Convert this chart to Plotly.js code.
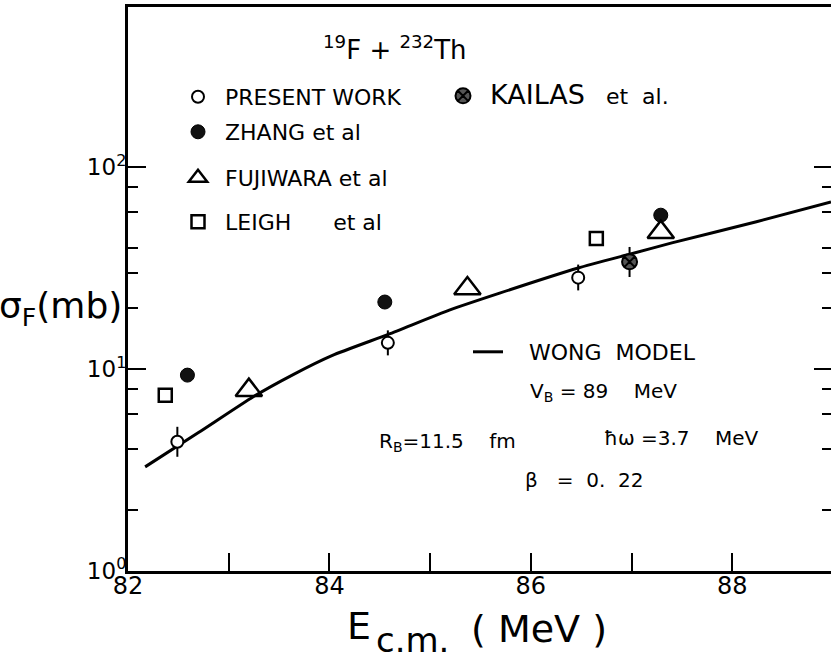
<!DOCTYPE html>
<html>
<head>
<meta charset="utf-8">
<script src="https://cdn.plot.ly/plotly-3.0.1.min.js"></script>
<style>
html,body{margin:0;padding:0;overflow:hidden;background:#fff;}
#chart{width:833px;height:659px;}
</style>
</head>
<body>
<div id="chart"></div>
<script>
// ---- data ----
const energyPresent = [82.49, 84.58, 86.47];
const sigmaPresent = [4.37, 13.5, 28.4];
const errUpPresent = [0.81, 2.06, 4.56];
const errDownPresent = [0.69, 1.8, 3.85];

const energyKailas = [86.98];
const sigmaKailas = [34.0];
const errUpKailas = [6.3];
const errDownKailas = [5.4];

const energyZhang = [82.59, 84.55, 87.29];
const sigmaZhang = [9.34, 21.5, 57.9];

const energyFujiwara = [83.2, 85.37, 87.29];
const sigmaFujiwara = [7.87, 25.1, 47.7];

const energyLeigh = [82.37, 86.65];
const sigmaLeigh = [7.43, 44.4];

const energyWong = [82.17, 82.70, 83.24, 83.64, 84.03, 84.59, 85.19, 85.69, 86.47, 86.99, 87.40, 88.24, 88.98];
const sigmaWong = [3.28, 4.85, 7.28, 9.40, 11.7, 14.9, 19.6, 23.8, 31.7, 37.2, 42.2, 53.7, 67.3];

const xTickVals = [82, 84, 86, 88];
const xTickText = ['82', '84', '86', '88'];
const xMinorVals = [83, 85, 87];
const yTickVals = [1, 10, 100];
const yTickText = ['10<sup>0</sup>', '10<sup>1</sup>', '10<sup>2</sup>'];
const yMinorVals = [2, 4, 6, 8, 20, 30, 40, 60, 80];

const seriesNames = ['PRESENT WORK', 'KAILAS', 'ZHANG et al', 'FUJIWARA et al', 'LEIGH', 'WONG MODEL'];

// ---- layout helpers ----
const FONT = 'DejaVu Sans, Verdana, sans-serif';
const L = 128, R = 832, T = 7, B = 571;
const px = X => (X - L) / (R - L);
const py = Y => (B - Y) / (B - T);
const NB = '\u00a0';
const sp = n => NB.repeat(n);

const traces = [
  {
    x: energyWong, y: sigmaWong, type: 'scatter', mode: 'lines',
    name: sp(3) + 'WONG' + sp(2) + 'MODEL',
    line: {color: '#000', width: 3, shape: 'spline', smoothing: 0.5},
    legend: 'legend6', hoverinfo: 'skip'
  },
  {
    x: energyPresent, y: sigmaPresent, type: 'scatter', mode: 'markers',
    name: sp(1) + seriesNames[0], legend: 'legend',
    marker: {symbol: 'circle', size: 12, color: '#fff', line: {color: '#000', width: 2}},
    error_y: {type: 'data', symmetric: false, array: errUpPresent, arrayminus: errDownPresent,
              color: '#000', thickness: 2, width: 0}
  },
  {
    x: energyZhang, y: sigmaZhang, type: 'scatter', mode: 'markers',
    name: sp(1) + seriesNames[2], legend: 'legend3',
    marker: {symbol: 'circle', size: 14, color: '#111', line: {color: '#000', width: 1}}
  },
  {
    x: energyFujiwara, y: sigmaFujiwara, type: 'scatter', mode: 'markers',
    name: sp(1) + seriesNames[3], legend: 'legend4',
    marker: {symbol: 'triangle-up-open', size: 23, color: '#000', line: {color: '#000', width: 2.5}}
  },
  {
    x: energyLeigh, y: sigmaLeigh, type: 'scatter', mode: 'markers',
    name: sp(1) + seriesNames[4] + sp(6) + 'et al', legend: 'legend5',
    marker: {symbol: 'square-open', size: 13, color: '#000', line: {color: '#000', width: 2.5}}
  },
  {
    x: energyKailas, y: sigmaKailas, type: 'scatter', mode: 'markers',
    name: sp(1) + '<span style="font-size:27px">' + seriesNames[1] + '</span>' + sp(3) + 'et' + sp(2) + 'al.',
    legend: 'legend2',
    marker: {symbol: 'circle-x', size: 15, color: '#555', line: {color: '#000', width: 2}},
    error_y: {type: 'data', symmetric: false, array: errUpKailas, arrayminus: errDownKailas,
              color: '#000', thickness: 2, width: 0}
  }
];

const legendBase = {
  xanchor: 'left', yanchor: 'middle', bgcolor: 'rgba(0,0,0,0)', borderwidth: 0,
  font: {family: FONT, size: 22, color: '#000'}, traceorder: 'normal', itemclick: false
};
const leg = (X, Y) => Object.assign({}, legendBase, {x: px(X), y: py(Y)});

const annFont = {family: FONT, size: 20, color: '#000'};
const annotations = [
  {text: '<sup>19</sup>F + <sup>232</sup>Th', x: px(395), y: py(48), font: {family: FONT, size: 26, color: '#000'}},
  {text: 'V<sub>B</sub>' + sp(1) + '=' + sp(1) + '89' + sp(4) + 'MeV', x: px(528), y: py(392), xanchor: 'left', font: annFont},
  {text: 'R<sub>B</sub>=11.5' + sp(4) + 'fm', x: px(377), y: py(442), xanchor: 'left', font: annFont},
  {text: 'ħω' + sp(1) + '=3.7' + sp(4) + 'MeV', x: px(602), y: py(438), xanchor: 'left', font: annFont},
  {text: 'β' + sp(3) + '=' + sp(2) + '0.' + sp(2) + '22', x: px(523), y: py(480), xanchor: 'left', font: annFont},
  {text: 'σ<sub>F</sub>(mb)', x: px(124), y: py(308), xanchor: 'right', font: {family: FONT, size: 36, color: '#000'}},
  {text: 'E', x: px(359), y: py(626), font: {family: FONT, size: 38, color: '#000'}},
  {text: 'c.m.', x: px(374), y: py(640), xanchor: 'left', font: {family: FONT, size: 34, color: '#000'}},
  {text: '( MeV )', x: px(539), y: py(629), font: {family: FONT, size: 38, color: '#000'}}
].map(a => Object.assign({xref: 'paper', yref: 'paper', showarrow: false, xanchor: 'center', yanchor: 'middle'}, a));

const layout = {
  width: 833, height: 659,
  margin: {l: L, r: 833 - R, t: T, b: 659 - B, pad: 0},
  paper_bgcolor: '#fff', plot_bgcolor: '#fff',
  showlegend: true,
  font: {family: FONT, color: '#000'},
  xaxis: {
    range: [82, 88.99], tickmode: 'array', tickvals: xTickVals, ticktext: xTickText,
    ticks: 'inside', ticklen: 18, tickwidth: 2, tickcolor: '#000', ticklabelstandoff: -9,
    showline: true, linewidth: 3, linecolor: '#000', mirror: true,
    showgrid: false, zeroline: false,
    tickfont: {family: FONT, size: 24, color: '#000'},
    minor: {tickmode: 'array', tickvals: xMinorVals, ticks: 'inside', ticklen: 18, tickwidth: 2, tickcolor: '#000', showgrid: false}
  },
  yaxis: {
    type: 'log', range: [0, 2.794], tickmode: 'array', tickvals: yTickVals, ticktext: yTickText,
    ticks: 'inside', ticklen: 18, tickwidth: 2, tickcolor: '#000', ticklabelstandoff: -6,
    showline: true, linewidth: 3, linecolor: '#000', mirror: 'ticks',
    showgrid: false, zeroline: false,
    tickfont: {family: FONT, size: 23, color: '#000'},
    minor: {tickmode: 'array', tickvals: yMinorVals, ticks: 'inside', ticklen: 10, tickwidth: 2, tickcolor: '#000', showgrid: false}
  },
  legend: leg(178, 97),
  legend2: leg(443, 96),
  legend3: leg(178, 132),
  legend4: leg(178, 178),
  legend5: leg(178, 222),
  legend6: leg(468, 352),
  annotations: annotations
};

Plotly.newPlot('chart', traces, layout, {displayModeBar: false, staticPlot: true});
</script>
</body>
</html>
